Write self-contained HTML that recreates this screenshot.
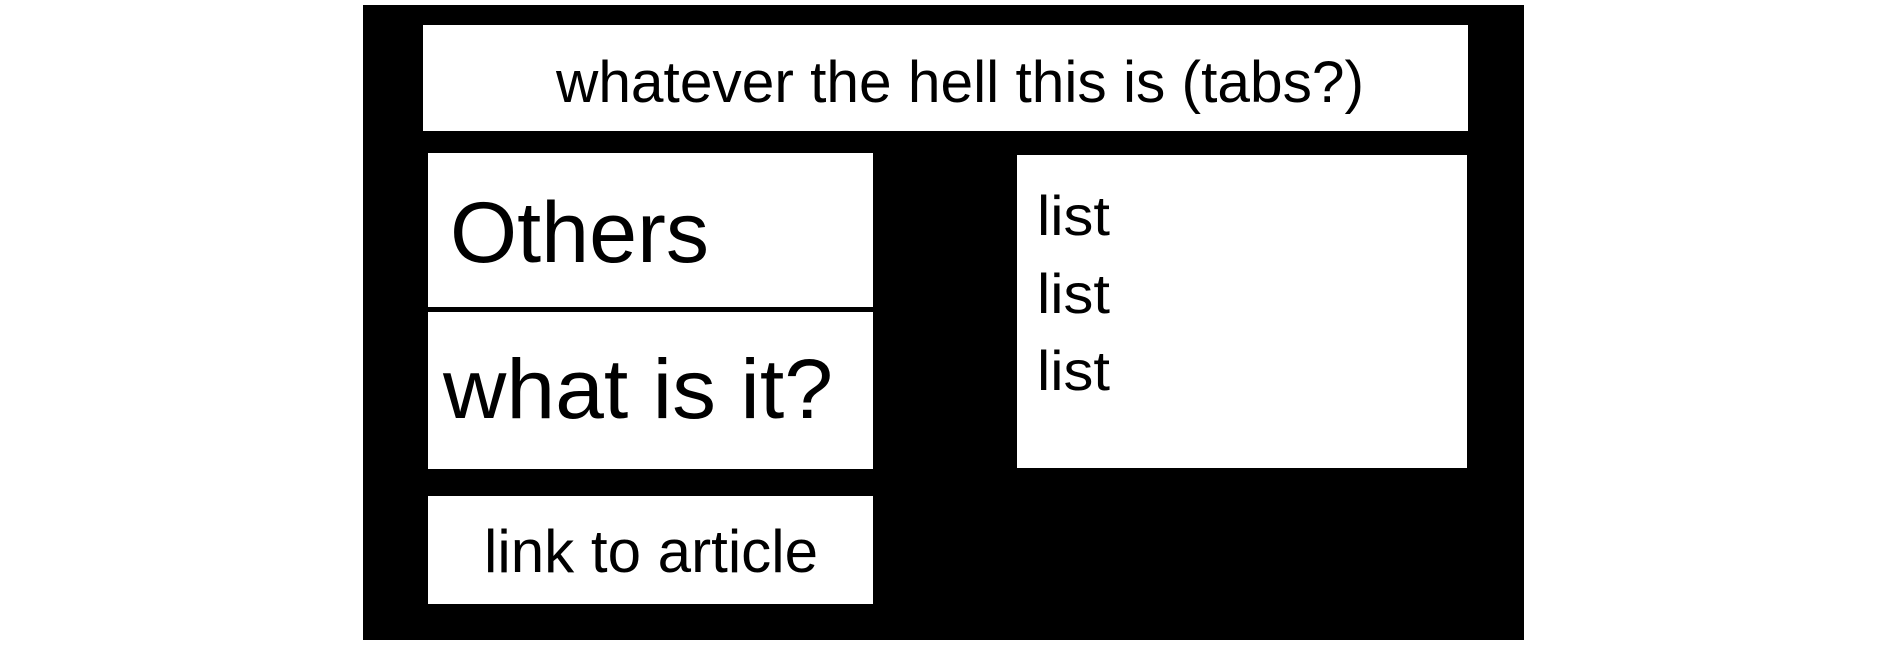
<!DOCTYPE html>
<html><head><meta charset="utf-8"><style>html,body{margin:0;padding:0;background:#fff;}svg{display:block}</style></head>
<body>
<svg width="1887" height="648" viewBox="0 0 1887 648" xmlns="http://www.w3.org/2000/svg" font-family="Liberation Sans, sans-serif" fill="#000">
<rect x="0" y="0" width="1887" height="648" fill="#fff"/>
<rect x="363" y="5" width="1161" height="635" fill="#000"/>
<rect x="423" y="25" width="1045" height="106" fill="#fff"/>
<rect x="428" y="153" width="445" height="154" fill="#fff"/>
<rect x="428" y="312" width="445" height="157" fill="#fff"/>
<rect x="428" y="496" width="445" height="108" fill="#fff"/>
<rect x="1017" y="155" width="450" height="313" fill="#fff"/>
<text x="556" y="102" font-size="58" textLength="808" lengthAdjust="spacingAndGlyphs">whatever the hell this is (tabs?)</text>
<text x="450" y="262" font-size="86" textLength="259" lengthAdjust="spacingAndGlyphs">Others</text>
<text x="443" y="418" font-size="84" textLength="390" lengthAdjust="spacingAndGlyphs">what is it?</text>
<text x="484" y="572" font-size="60" textLength="334" lengthAdjust="spacingAndGlyphs">link to article</text>
<text x="1037" y="235" font-size="56" textLength="73" lengthAdjust="spacingAndGlyphs">list</text>
<text x="1037" y="313" font-size="56" textLength="73" lengthAdjust="spacingAndGlyphs">list</text>
<text x="1037" y="390" font-size="56" textLength="73" lengthAdjust="spacingAndGlyphs">list</text>
</svg>
</body></html>
